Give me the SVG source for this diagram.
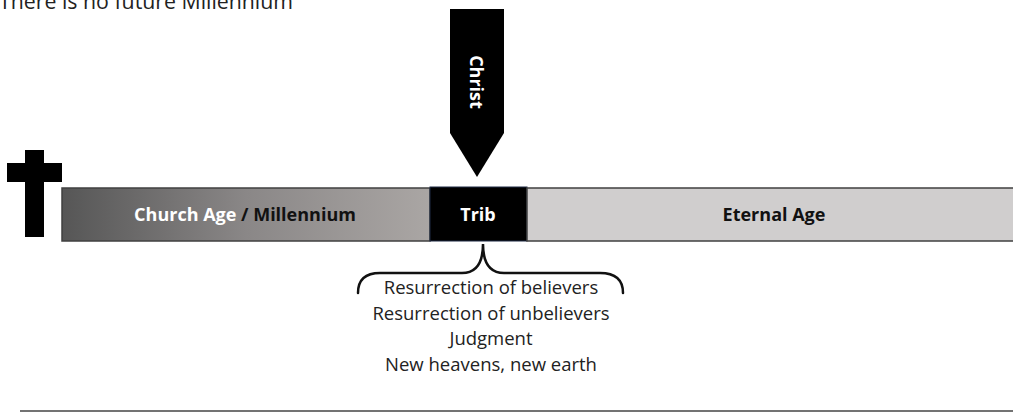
<svg xmlns="http://www.w3.org/2000/svg" width="1013" height="416" viewBox="0 0 1013 416">
  <style>
    .lbl { font-family: "Open Sans", "Liberation Sans", sans-serif; font-weight: bold; font-size: 18px; text-anchor: middle; dominant-baseline: central; }
    .note { font-family: "Open Sans", "Liberation Sans", sans-serif; font-size: 18.5px; fill: #222; text-anchor: middle; }
    .bar { stroke: #404040; stroke-width: 1.5; }
  </style>
  <defs>
    <linearGradient id="churchFill" x1="0" y1="0" x2="1" y2="0">
      <stop offset="0" stop-color="#565656"/>
      <stop offset="0.5" stop-color="#8a8787"/>
      <stop offset="1" stop-color="#aaa6a4"/>
    </linearGradient>
  </defs>

  <rect width="1013" height="416" fill="#ffffff"/>

  <!-- heading -->
  <text x="-1" y="9" font-family="Open Sans, Liberation Sans, sans-serif" font-size="21.3px" fill="#222">There is no future Millennium</text>

  <!-- cross -->
  <g id="cross" fill="#000">
    <rect x="25" y="150" width="19" height="87"/>
    <rect x="7" y="163" width="55" height="19"/>
  </g>

  <!-- timeline bars -->
  <g id="church-age">
    <rect class="bar" x="62" y="188" width="368" height="53" fill="url(#churchFill)"/>
    <text class="lbl" x="245" y="214"><tspan fill="#ffffff">Church Age </tspan><tspan fill="#111">/ Millennium</tspan></text>
  </g>
  <g id="trib">
    <rect x="430" y="187" width="97" height="54" fill="#000" stroke="#1f2a44" stroke-width="1"/>
    <text class="lbl" x="478" y="214" fill="#ffffff">Trib</text>
  </g>
  <g id="eternal-age">
    <rect class="bar" x="527" y="188" width="490" height="53" fill="#d0cece"/>
    <text class="lbl" x="774" y="214" fill="#111">Eternal Age</text>
  </g>

  <!-- return arrow -->
  <g id="christ">
    <polygon points="450,9 504,9 504,133 477,177 450,133" fill="#000"/>
    <text class="lbl" x="0" y="0" fill="#ffffff" transform="translate(477,82) rotate(90)">Christ</text>
  </g>

  <!-- connectors -->
  <g id="connectors" fill="none" stroke="#111" stroke-width="2.5" stroke-linecap="round">
    <path d="M358,293 Q358,273 380,273 L462,273 Q483,273 483,244 Q483,273 504,273 L600,273 Q623,273 623,293"/>
  </g>

  <!-- events at the return -->
  <g id="events">
    <text class="note" x="491" y="294">Resurrection of believers</text>
    <text class="note" x="491" y="319.5">Resurrection of unbelievers</text>
    <text class="note" x="491" y="345">Judgment</text>
    <text class="note" x="491" y="370.5">New heavens, new earth</text>
  </g>

  <!-- rule -->
  <line x1="20" y1="411" x2="1013" y2="411" stroke="#444" stroke-width="1.5"/>
</svg>
